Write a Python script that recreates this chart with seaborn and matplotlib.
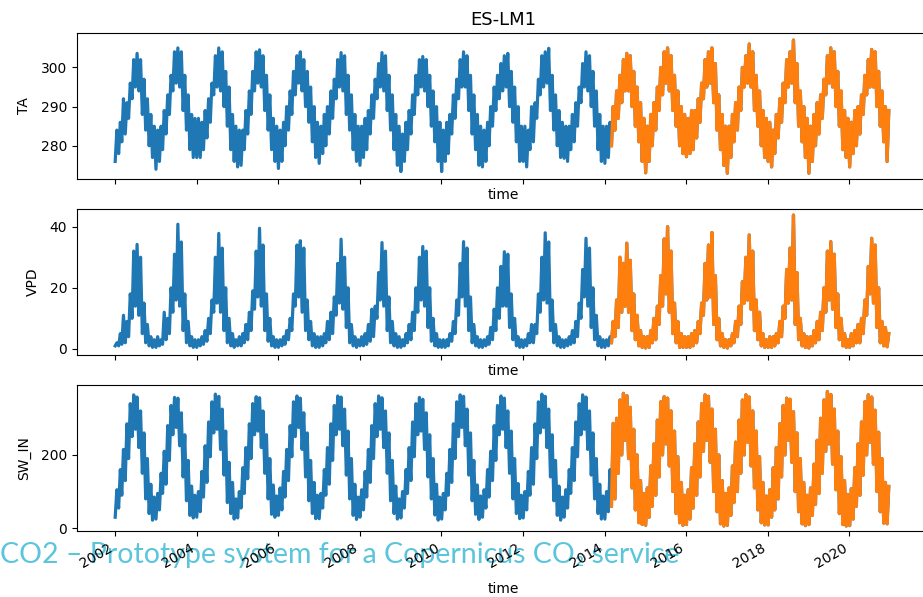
import pandas as pd
import matplotlib
matplotlib.use("Agg")
import matplotlib.pyplot as plt
import matplotlib.dates as mdates
import seaborn as sns

# years of the record, one row per year in every table below (Jan..Dec)
years = list(range(2002, 2021))
orange_start = "2014-03-01"   # second data set starts here

# TA: monthly low / high of the daily band
ta_lo = [
    [276, 278, 281, 283, 287, 292, 295, 294, 288, 284, 280, 277],
    [274, 276, 279, 283, 288, 294, 296, 295, 289, 284, 279, 277],
    [277, 277, 279, 282, 286, 293, 295, 294, 290, 285, 279, 276],
    [274.6, 275, 279, 283, 288, 294, 296, 295, 289, 284, 279, 276],
    [274.2, 276, 280, 284, 288, 293, 296, 294, 290, 286, 281, 277],
    [275.5, 278, 280, 283, 287, 292, 295, 294, 288, 284, 279, 276],
    [275, 277, 279, 283, 287, 292, 295, 294, 289, 284, 279, 275],
    [273.4, 276, 279, 283, 288, 293, 295, 294, 290, 285, 281, 276],
    [273.4, 276, 278, 283, 287, 292, 295, 295, 289, 283, 279, 275],
    [274.6, 276, 280, 285, 289, 292, 294, 295, 290, 286, 281, 276],
    [276, 274.6, 279, 281, 287, 293, 295, 296, 289, 284, 280, 277],
    [276.8, 276, 279, 281, 285, 291, 295, 294, 290, 285, 279, 276],
    [275.5, 277, 280, 284, 287, 291, 294, 294, 290, 285, 281, 276],
    [273.1, 276, 280, 284, 289, 293, 296, 294, 289, 285, 280, 278],
    [277.2, 278, 279, 282, 286, 292, 295, 296, 291, 284, 279, 275],
    [273, 277, 281, 284, 289, 295, 296, 295, 289, 285, 280, 277],
    [276, 274.6, 278, 282, 286, 291, 295, 296, 291, 285, 281, 277],
    [273, 276, 280, 283, 287, 293, 296, 295, 290, 285, 279, 277],
    [274.6, 278, 280, 283, 288, 293, 295, 295, 290, 285, 281, 276],
]
ta_hi = [
    [284, 286, 292, 291, 296, 302, 303.6, 302, 297, 292, 288, 285],
    [284, 285, 289, 293, 298, 304, 305, 304, 298, 293, 288, 287],
    [287, 286, 289, 292, 296, 303, 305, 304, 299, 295, 288, 285],
    [284, 284, 289, 294, 299, 304, 304.5, 303, 298, 293, 287, 285],
    [284, 286, 290, 294, 299, 303, 304, 302, 299, 295, 290, 286],
    [285, 288, 290, 294, 297, 302, 303.8, 303, 298, 293, 288, 285],
    [285, 287, 289, 293, 297, 301, 303.8, 303, 298, 293, 288, 285],
    [283, 286, 289, 293, 298, 302, 302.8, 302, 298, 294, 290, 286],
    [284, 286, 288, 293, 297, 302, 304, 303, 298, 293, 288, 285],
    [284, 286, 290, 295, 298, 301, 303, 303.6, 299, 295, 290, 285],
    [285, 284, 290, 291, 297, 303, 304, 304.9, 298, 293, 289, 286],
    [285, 285, 288, 291, 295, 301, 304, 303, 299, 294, 288, 285],
    [285, 286, 290, 294, 298, 302, 303.6, 303, 299, 295, 291, 287],
    [285, 288, 291, 295, 300, 304, 305, 303, 298, 294, 290, 288],
    [287, 289, 289, 292, 296, 302, 304, 305, 301, 293, 288, 285],
    [285, 288, 291, 295, 300, 303, 306, 304, 298, 294, 289, 287],
    [286, 284, 288, 292, 296, 302, 304, 307, 301, 294, 290, 287],
    [285, 288, 291, 293, 297, 303, 305, 304, 299, 294, 289, 287],
    [286, 289, 290, 293, 298, 302, 304.6, 304, 299, 294, 290, 289],
]

# VPD: monthly low / high
vpd_lo = [
    [1, 1, 1.5, 2, 4, 10, 14, 11, 5, 2, 1, 0.5],
    [0.5, 1, 1.5, 3, 5, 12, 16, 14, 6, 2, 1, 0.5],
    [0.5, 1, 1.5, 2.5, 5, 12, 15, 12, 6, 2, 1, 0.5],
    [1, 1, 2, 3, 6, 13, 17, 14, 6, 2.5, 1, 0.5],
    [0.5, 1, 1.5, 3, 6, 14, 17, 12, 6, 3, 1, 0.5],
    [0.5, 1, 2, 3, 5, 11, 15, 13, 7, 2, 1, 0.5],
    [1, 1, 1.5, 2.5, 4, 10, 16, 14, 6, 2, 1, 0.5],
    [0.5, 1, 2, 3, 6, 12, 16, 14, 7, 2.5, 1, 0.5],
    [0.5, 0.5, 1, 2.5, 5, 11, 17, 14, 6, 2, 1, 0.5],
    [0.5, 1, 1.5, 3, 6, 10, 14, 14, 7, 3, 1, 0.5],
    [0.5, 1, 2, 2, 5, 12, 16, 15, 6, 2, 1, 0.5],
    [0.5, 1, 1.5, 2, 4, 10, 17, 14, 7, 3, 1, 0.5],
    [0.5, 1, 2, 4, 7, 12, 14, 12, 6, 3, 1, 0.5],
    [0.3, 0.5, 2, 3, 8, 14, 18, 12, 5, 2, 0.5, 0.5],
    [0.5, 0.5, 1, 2, 5, 11, 16, 17, 8, 3, 1, 0.5],
    [0.3, 1, 2, 4, 8, 15, 16, 13, 6, 3, 1, 0.5],
    [0.5, 0.5, 1, 2, 4, 10, 15, 16, 8, 3, 1, 0.5],
    [0.3, 1, 2, 3, 6, 12, 16, 13, 7, 3, 1, 0.5],
    [0.5, 1, 2, 2, 5, 11, 18, 15, 7, 2, 1, 0.7],
]
vpd_hi = [
    [2, 5, 11, 9, 18, 32, 34.2, 30, 15, 8, 4, 3],
    [4, 3, 12, 10, 20, 31, 40.8, 35, 18, 9, 4, 3],
    [3, 4, 6, 10, 16, 30, 37.8, 33, 20, 10, 5, 3],
    [4, 5, 8, 12, 19, 32, 39.5, 34, 18, 10, 4, 3],
    [3, 4, 6, 10, 18, 34, 35.4, 33, 16, 9, 5, 4],
    [4, 5, 9, 12, 17, 28, 35.9, 30, 20, 8, 4, 3],
    [4, 5, 8, 13, 14, 25, 34.8, 32, 17, 9, 5, 4],
    [3, 5, 8, 12, 20, 30, 33.5, 32, 20, 10, 5, 3],
    [3, 3, 5, 9, 16, 28, 35.1, 33, 17, 8, 4, 3],
    [3, 4, 7, 13, 20, 27, 31.8, 31, 18, 10, 4, 3],
    [3, 5, 8, 8, 18, 30, 38, 35, 16, 8, 4, 3],
    [3, 4, 6, 9, 15, 26, 36.2, 33, 20, 11, 4, 3],
    [3, 4, 9, 16, 30, 28, 34.6, 29, 18, 11, 6, 4],
    [4, 6, 10, 14, 24, 36, 40, 32, 15, 9, 5, 4],
    [4, 5, 6, 9, 15, 28, 34, 38.1, 24, 10, 5, 3],
    [3, 5, 9, 14, 22, 30, 37.3, 32, 16, 12, 5, 3],
    [4, 4, 5, 9, 14, 26, 33, 43.8, 25, 10, 5, 4],
    [4, 6, 9, 12, 20, 32, 35.1, 31, 18, 10, 5, 3],
    [5, 6, 8, 10, 16, 27, 36.2, 34, 20, 9, 7, 5],
]

# SW_IN: monthly low / high
sw_lo = [
    [30, 55, 90, 130, 190, 250, 270, 220, 150, 80, 40, 22],
    [25, 50, 95, 120, 185, 255, 275, 225, 140, 75, 35, 28],
    [30, 45, 85, 125, 195, 260, 270, 215, 145, 70, 40, 25],
    [28, 55, 95, 135, 190, 255, 265, 220, 150, 80, 38, 30],
    [35, 50, 85, 130, 195, 250, 275, 215, 140, 75, 40, 26],
    [26, 55, 90, 120, 185, 255, 270, 225, 145, 80, 35, 24],
    [30, 50, 85, 125, 190, 250, 270, 220, 150, 75, 40, 25],
    [28, 55, 95, 130, 195, 255, 265, 215, 140, 80, 36, 22],
    [25, 50, 90, 125, 190, 250, 275, 225, 145, 75, 38, 24],
    [30, 55, 85, 130, 185, 255, 270, 220, 150, 80, 40, 26],
    [28, 50, 90, 120, 190, 260, 275, 220, 140, 75, 35, 22],
    [30, 55, 95, 130, 195, 255, 270, 215, 145, 80, 40, 25],
    [25, 45, 60, 80, 150, 200, 240, 190, 110, 50, 15, 10],
    [8, 30, 60, 90, 140, 200, 230, 170, 100, 40, 15, 8],
    [10, 25, 55, 90, 140, 210, 240, 180, 100, 45, 12, 6],
    [8, 35, 70, 100, 150, 200, 235, 170, 110, 50, 15, 9],
    [9, 30, 50, 80, 140, 200, 240, 180, 100, 45, 12, 7],
    [10, 35, 65, 95, 150, 210, 230, 175, 105, 40, 10, 6],
    [7, 25, 60, 90, 145, 200, 235, 175, 100, 45, 14, 12],
]
sw_hi = [
    [105, 160, 215, 285, 340, 364, 358, 320, 260, 190, 120, 85],
    [95, 150, 210, 280, 335, 357, 355, 315, 255, 185, 115, 90],
    [100, 155, 225, 290, 345, 366, 360, 325, 265, 180, 125, 80],
    [100, 165, 220, 285, 340, 359, 356, 320, 255, 190, 118, 88],
    [110, 155, 215, 280, 345, 361, 355, 315, 260, 185, 125, 90],
    [95, 160, 220, 285, 335, 361, 358, 325, 265, 190, 120, 85],
    [105, 155, 215, 280, 340, 361, 356, 320, 260, 185, 115, 80],
    [100, 160, 220, 290, 340, 357, 352, 315, 255, 190, 120, 85],
    [95, 150, 215, 285, 345, 364, 360, 325, 260, 185, 118, 88],
    [105, 160, 210, 280, 335, 361, 355, 320, 265, 190, 122, 90],
    [100, 155, 220, 285, 345, 366, 360, 325, 255, 185, 115, 85],
    [105, 160, 220, 290, 340, 364, 358, 320, 260, 190, 120, 88],
    [100, 160, 286, 300, 350, 368, 362, 330, 270, 200, 130, 95],
    [110, 170, 230, 295, 345, 359, 355, 320, 265, 195, 125, 90],
    [105, 165, 230, 290, 340, 364, 360, 325, 270, 200, 130, 95],
    [110, 170, 235, 295, 350, 364, 358, 320, 265, 195, 125, 88],
    [105, 165, 220, 285, 335, 355, 352, 318, 260, 190, 125, 90],
    [110, 175, 240, 300, 350, 373, 365, 325, 265, 195, 130, 92],
    [108, 165, 230, 290, 345, 364, 358, 322, 262, 190, 125, 114],
]


def band_frame(lo_rows, hi_rows):
    # the daily record swings between the monthly low and high:
    # one low reading early in the month, one high reading mid month
    rows = []
    for y, lo, hi in zip(years, lo_rows, hi_rows):
        for m in range(12):
            rows.append((pd.Timestamp(y, m + 1, 3), lo[m]))
            rows.append((pd.Timestamp(y, m + 1, 18), hi[m]))
    df = pd.DataFrame(rows, columns=["time", "value"])
    df["src"] = "full"
    late = df[df["time"] >= orange_start].copy()
    late["src"] = "late"
    return pd.concat([df, late], ignore_index=True)


panels = [
    ("TA", ta_lo, ta_hi, (271.5, 308.8), [280, 290, 300]),
    ("VPD", vpd_lo, vpd_hi, (-2.0, 45.8), [0, 20, 40]),
    ("SW_IN", sw_lo, sw_hi, (-7.5, 391), [0, 200]),
]

fig, axes = plt.subplots(3, 1, figsize=(9.23, 5.97), dpi=100)
fig.subplots_adjust(left=0.0834, right=1.0065, top=0.9447, bottom=0.1106, hspace=0.205)

for i, (ax, (name, lo, hi, ylim, yticks)) in enumerate(zip(axes, panels)):
    df = band_frame(lo, hi)
    # thick stroke so the monthly swings merge into one solid band
    sns.lineplot(data=df, x="time", y="value", hue="src", hue_order=["full", "late"],
                 palette=["#1f77b4", "#ff7f0e"], estimator=None, legend=False,
                 linewidth=2.3, ax=ax)
    ax.set_ylabel(name, labelpad=7)
    ax.set_ylim(*ylim)
    ax.set_yticks(yticks)
    ax.set_xlim(pd.Timestamp("2001-01-26"), pd.Timestamp("2021-12-13"))
    ax.xaxis.set_major_locator(mdates.YearLocator(2))
    ax.xaxis.set_major_formatter(mdates.DateFormatter("%Y"))
    ax.xaxis.set_minor_locator(plt.NullLocator())
    if i < 2:
        ax.tick_params(axis="x", labelbottom=False)
        ax.set_xlabel("time", labelpad=3)
    else:
        ax.set_xlabel("time", labelpad=8)
        plt.setp(ax.get_xticklabels(), rotation=30, ha="right")

axes[0].set_title("ES-LM1", fontsize=13)

# slide footer that sits under the chart
fig.text(0.0, 0.057, "CO2 \u2013 Prototype system for a Copernicus CO\u2082 service",
         color="#5bc5dc", fontsize=20.5, family=["Lato", "DejaVu Sans"], zorder=-1)

fig.savefig("out.png", dpi=100)
